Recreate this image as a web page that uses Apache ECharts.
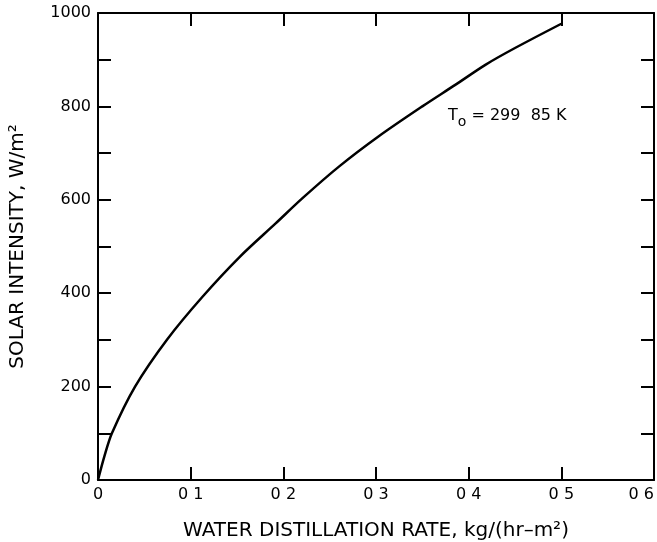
<!DOCTYPE html>
<html>
<head>
<meta charset="utf-8">
<script src="https://cdn.jsdelivr.net/npm/echarts@6/dist/echarts.min.js"></script>
<style>
html,body{margin:0;padding:0;background:#fff;}
#c{width:657px;height:542px;}
</style>
</head>
<body>
<div id="c"></div>
<script>
const xRate = [0, 0.0068, 0.015, 0.04, 0.075, 0.113, 0.153, 0.192, 0.221, 0.26, 0.303, 0.35, 0.3855, 0.418, 0.45, 0.5];
const solar = [0, 50, 100, 200, 302, 393, 478, 550, 604, 671, 736, 800, 846, 889, 925, 977];
const xTickLabels = ['0', '0 1', '0 2', '0 3', '0 4', '0 5', '0 6'];
const yTickLabels = ['0', '', '200', '', '400', '', '600', '', '800', '', '1000'];
const annotation = 'T';

const wide = '"DejaVu Sans", sans-serif';
const axisCommon = {
  axisLine: {show: true, onZero: false, lineStyle: {color: '#000', width: 2}},
  axisTick: {show: true, inside: true, length: 13, lineStyle: {color: '#000', width: 2}},
  splitLine: {show: false}
};
const chart = echarts.init(document.getElementById('c'));
chart.setOption({
  animation: false,
  backgroundColor: '#fff',
  grid: {left: 98, right: 3, top: 13, bottom: 62, containLabel: false, outerBoundsMode: 'none'},
  xAxis: [
    Object.assign({
      type: 'value', position: 'bottom', min: 0, max: 0.6, interval: 0.1,
      name: 'WATER DISTILLATION RATE, kg/(hr\u2013m\u00B2)',
      nameLocation: 'middle', nameGap: 41,
      nameTextStyle: {color: '#000', fontSize: 20, fontFamily: wide},
      axisLabel: {color: '#000', fontSize: 16, fontFamily: wide, margin: 7, alignMaxLabel: 'right',
        formatter: function (v) { return xTickLabels[Math.round(v * 10)]; }}
    }, axisCommon),
    Object.assign({
      type: 'value', position: 'top', min: 0, max: 0.6, interval: 0.1,
      axisLabel: {show: false}
    }, axisCommon)
  ],
  yAxis: [
    Object.assign({
      type: 'value', position: 'left', min: 0, max: 1000, interval: 100,
      name: 'SOLAR INTENSITY, W/m\u00B2',
      nameLocation: 'middle', nameGap: 70, nameRotate: 90,
      nameTextStyle: {color: '#000', fontSize: 20, fontFamily: wide},
      axisLabel: {color: '#000', fontSize: 16, fontFamily: wide, margin: 7,
        formatter: function (v) { return yTickLabels[Math.round(v / 100)]; }}
    }, axisCommon),
    Object.assign({
      type: 'value', position: 'right', min: 0, max: 1000, interval: 100,
      axisLabel: {show: false}
    }, axisCommon)
  ],
  series: [{
    type: 'line',
    xAxisIndex: 0, yAxisIndex: 0,
    data: xRate.map((x, i) => [x, solar[i]]),
    smooth: 0.3,
    showSymbol: false,
    lineStyle: {color: '#000', width: 2.5}
  }],
  graphic: [{
    type: 'text',
    left: 448, top: 108,
    style: {
      rich: {
        a: {fontSize: 16, fontFamily: wide, fill: '#000'},
        s: {fontSize: 14, fontFamily: wide, fill: '#000', padding: [12, 0, 0, 0]}
      },
      text: '{a|' + annotation + '}{s|o}{a| = 299  85 K}'
    }
  }]
});
</script>
</body>
</html>
